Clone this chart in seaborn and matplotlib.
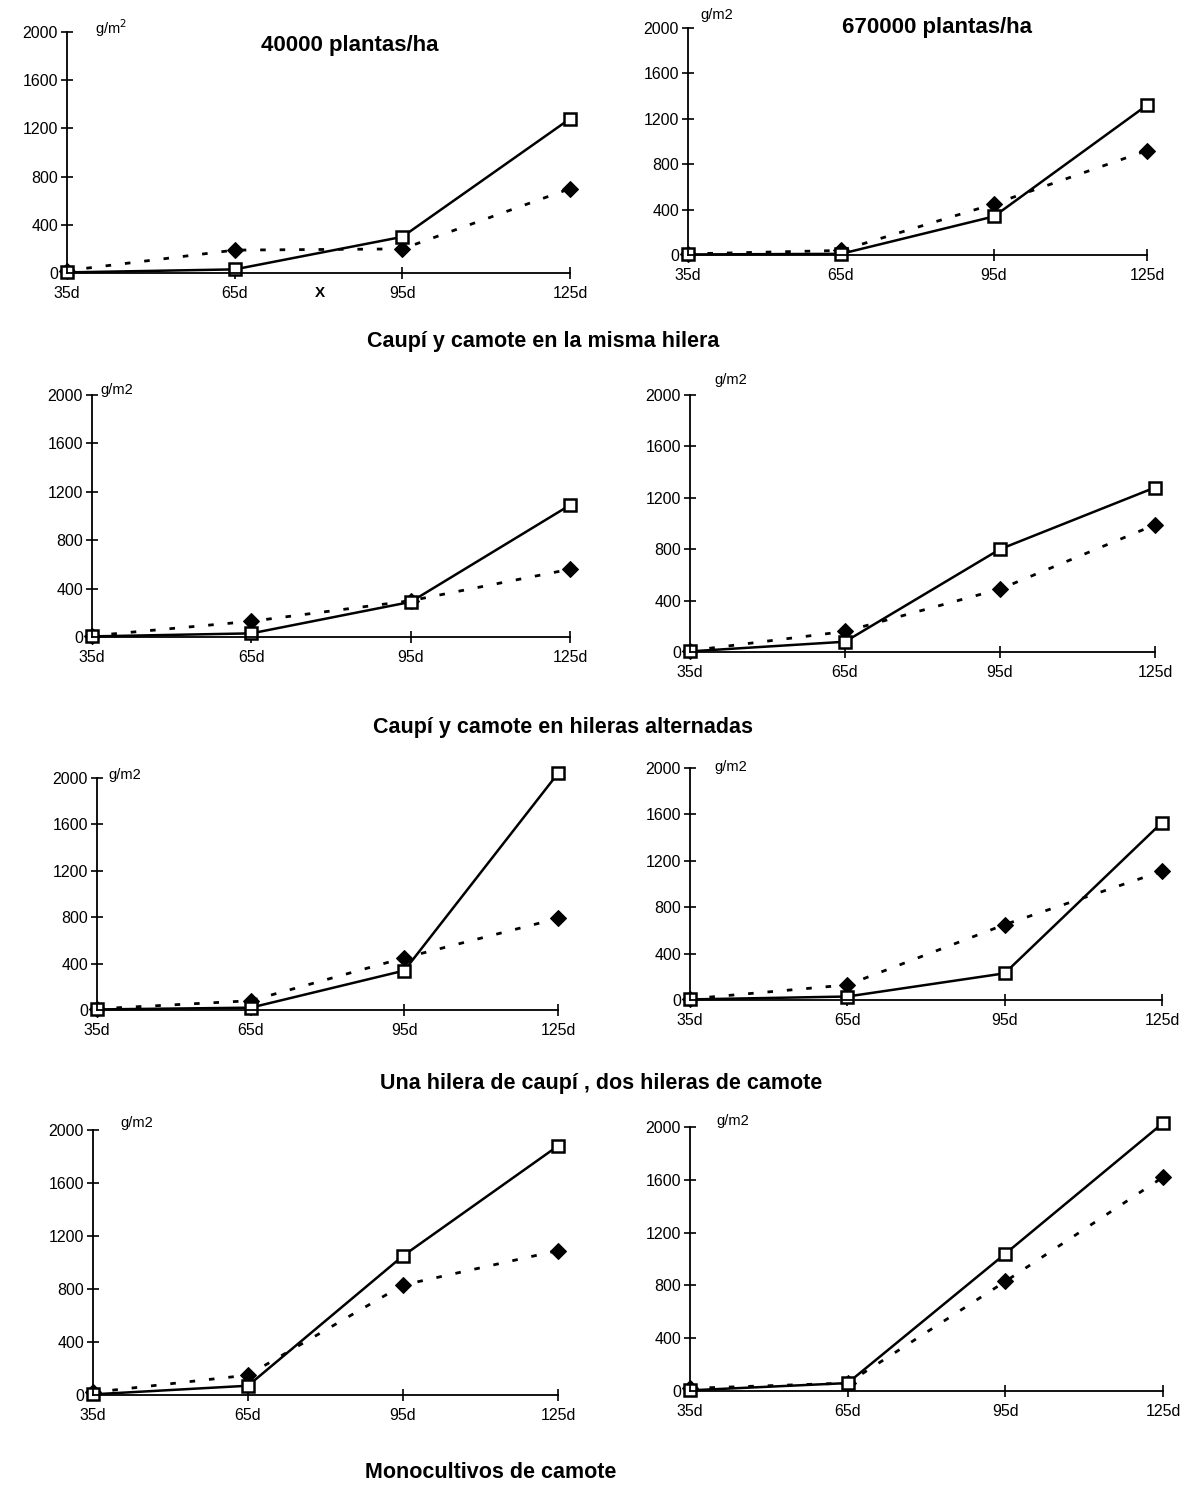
import matplotlib
matplotlib.use("Agg")
import matplotlib.pyplot as plt
import seaborn as sns
import pandas as pd

# Data
days = [35, 65, 95, 125]
day_labels = ["35d", "65d", "95d", "125d"]
y_ticks = [0, 400, 800, 1200, 1600, 2000]

# open squares, solid line
sq_misma_40k = [5, 30, 300, 1280]
sq_misma_670k = [5, 10, 340, 1320]
sq_alt_40k = [5, 30, 290, 1090]
sq_alt_670k = [5, 80, 800, 1280]
sq_una_40k = [5, 20, 340, 2040]
sq_una_670k = [5, 30, 230, 1530]
sq_mono_40k = [5, 70, 1050, 1880]
sq_mono_670k = [5, 60, 1040, 2030]

# filled diamonds, dotted line
dm_misma_40k = [20, 190, 200, 700]
dm_misma_670k = [10, 40, 450, 920]
dm_alt_40k = [10, 130, 300, 560]
dm_alt_670k = [10, 160, 490, 990]
dm_una_40k = [10, 80, 450, 790]
dm_una_670k = [10, 130, 650, 1110]
dm_mono_40k = [20, 150, 830, 1090]
dm_mono_670k = [20, 60, 830, 1620]

unit_labels = ["g/m$^2$", "g/m2", "g/m2", "g/m2", "g/m2", "g/m2", "g/m2", "g/m2"]
col_titles = ["40000 plantas/ha", "670000 plantas/ha"]
section_titles = ["Caupí y camote en la misma hilera",
                  "Caupí y camote en hileras alternadas",
                  "Una hilera de caupí , dos hileras de camote",
                  "Monocultivos de camote"]

sns.set_style("white")
plt.rcParams["font.family"] = ["Liberation Sans Narrow", "Liberation Sans", "DejaVu Sans"]
plt.rcParams["text.color"] = "black"
plt.rcParams["xtick.color"] = "black"
plt.rcParams["ytick.color"] = "black"

W, H = 1188, 1512
fig = plt.figure(figsize=(W / 100, H / 100), dpi=100)


def fx(x):
    return x / W


def fy(y):
    return 1 - y / H


# axis boxes in pixels: left, top (2000), right, bottom (0)
boxes = [(67, 32, 570, 273), (688, 28, 1147, 255),
         (92, 395, 570, 637), (690, 395, 1155, 652),
         (97, 778, 558, 1010), (690, 768, 1162, 1000),
         (93, 1130, 558, 1395), (690, 1127, 1163, 1391)]
unit_pos = [(95, 28), (700, 15), (100, 390), (714, 380),
            (108, 775), (714, 767), (120, 1123), (716, 1121)]

squares = [sq_misma_40k, sq_misma_670k, sq_alt_40k, sq_alt_670k,
           sq_una_40k, sq_una_670k, sq_mono_40k, sq_mono_670k]
diamonds = [dm_misma_40k, dm_misma_670k, dm_alt_40k, dm_alt_670k,
            dm_una_40k, dm_una_670k, dm_mono_40k, dm_mono_670k]

for i, (l, t, r, b) in enumerate(boxes):
    ax = fig.add_axes([fx(l), fy(b), fx(r - l), (b - t) / H])
    df = pd.DataFrame({"day": days, "sq": squares[i], "dm": diamonds[i]})

    sns.lineplot(data=df, x="day", y="dm", ax=ax, color="black", lw=2.0,
                 linestyle=(0, (2, 5)), marker="D", markersize=8,
                 markerfacecolor="black", markeredgecolor="black", clip_on=False)
    sns.lineplot(data=df, x="day", y="sq", ax=ax, color="black", lw=1.8,
                 marker="s", markersize=9, markerfacecolor="white",
                 markeredgecolor="black", markeredgewidth=1.8, clip_on=False)

    ax.set_xlim(35, 125)
    ax.set_ylim(0, 2000)
    ax.set_xticks(days)
    ax.set_xticklabels(day_labels)
    ax.set_yticks(y_ticks)
    ax.set_xlabel("")
    ax.set_ylabel("")
    for s in ["top", "right"]:
        ax.spines[s].set_visible(False)
    for s in ["left", "bottom"]:
        ax.spines[s].set_color("black")
        ax.spines[s].set_linewidth(1.3)
    ax.tick_params(axis="both", direction="inout", length=9, width=1.2,
                   colors="black", labelsize=11.5, bottom=True, left=True)
    ax.tick_params(axis="x", pad=5)
    ax.tick_params(axis="y", pad=2)
    ax.set_facecolor("none")

    ux, uy = unit_pos[i]
    fig.text(fx(ux), fy(uy), unit_labels[i], fontsize=10.5, va="center", ha="left")

fig.text(fx(350), fy(45), col_titles[0], fontsize=16, fontweight="bold",
         ha="center", va="center", family=["Liberation Sans", "DejaVu Sans"])
fig.text(fx(937), fy(28), col_titles[1], fontsize=16, fontweight="bold",
         ha="center", va="center", family=["Liberation Sans", "DejaVu Sans"])
fig.text(fx(320), fy(293), "X", fontsize=11, fontweight="bold", ha="center", va="center")

sec_pos = [(543, 342), (563, 727), (601, 1084), (491, 1472)]
for (sx, sy), txt in zip(sec_pos, section_titles):
    fig.text(fx(sx), fy(sy), txt, fontsize=15.5, fontweight="bold",
             ha="center", va="center", family=["Liberation Sans", "DejaVu Sans"])

fig.savefig("out.png", dpi=100, facecolor="white")
